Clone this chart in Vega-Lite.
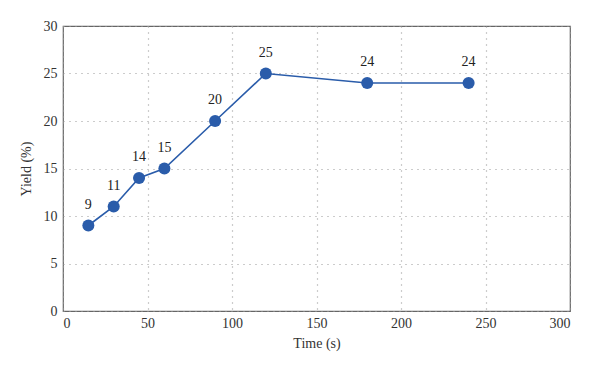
{
  "$schema": "https://vega.github.io/schema/vega-lite/v6.json",
  "width": 507,
  "height": 285,
  "autosize": {"type": "none"},
  "padding": {"left": 63, "top": 26, "right": 30, "bottom": 60},
  "background": "white",
  "config": {
    "font": "Liberation Serif",
    "view": {"stroke": "#666666", "strokeWidth": 1.2},
    "axis": {
      "labelFont": "Liberation Serif",
      "titleFont": "Liberation Serif",
      "labelFontSize": 14,
      "titleFontSize": 14,
      "labelColor": "#333333",
      "titleColor": "#333333",
      "titleFontWeight": "normal",
      "ticks": false,
      "domain": false,
      "gridColor": "#999999",
      "gridDash": [1, 5],
      "gridWidth": 1.2
    }
  },
  "data": {
    "values": [
      {"time": 15, "yield": 9},
      {"time": 30, "yield": 11},
      {"time": 45, "yield": 14},
      {"time": 60, "yield": 15},
      {"time": 90, "yield": 20},
      {"time": 120, "yield": 25},
      {"time": 180, "yield": 24},
      {"time": 240, "yield": 24}
    ]
  },
  "encoding": {
    "x": {
      "field": "time",
      "type": "quantitative",
      "scale": {"domain": [0, 300], "nice": false},
      "axis": {"values": [0, 50, 100, 150, 200, 250, 300], "title": "Time (s)", "labelPadding": 5, "titlePadding": 6}
    },
    "y": {
      "field": "yield",
      "type": "quantitative",
      "scale": {"domain": [0, 30], "nice": false},
      "axis": {"values": [0, 5, 10, 15, 20, 25, 30], "title": "Yield (%)", "labelPadding": 6, "titlePadding": 10}
    }
  },
  "layer": [
    {"mark": {"type": "line", "color": "#2a5caa", "strokeWidth": 1.6}},
    {"mark": {"type": "point", "filled": true, "opacity": 1, "color": "#2a5caa", "size": 145}},
    {"mark": {"type": "text", "dy": -21, "fontSize": 14, "color": "#222222", "font": "Liberation Serif"},
     "encoding": {"text": {"field": "yield", "type": "quantitative"}}}
  ]
}
